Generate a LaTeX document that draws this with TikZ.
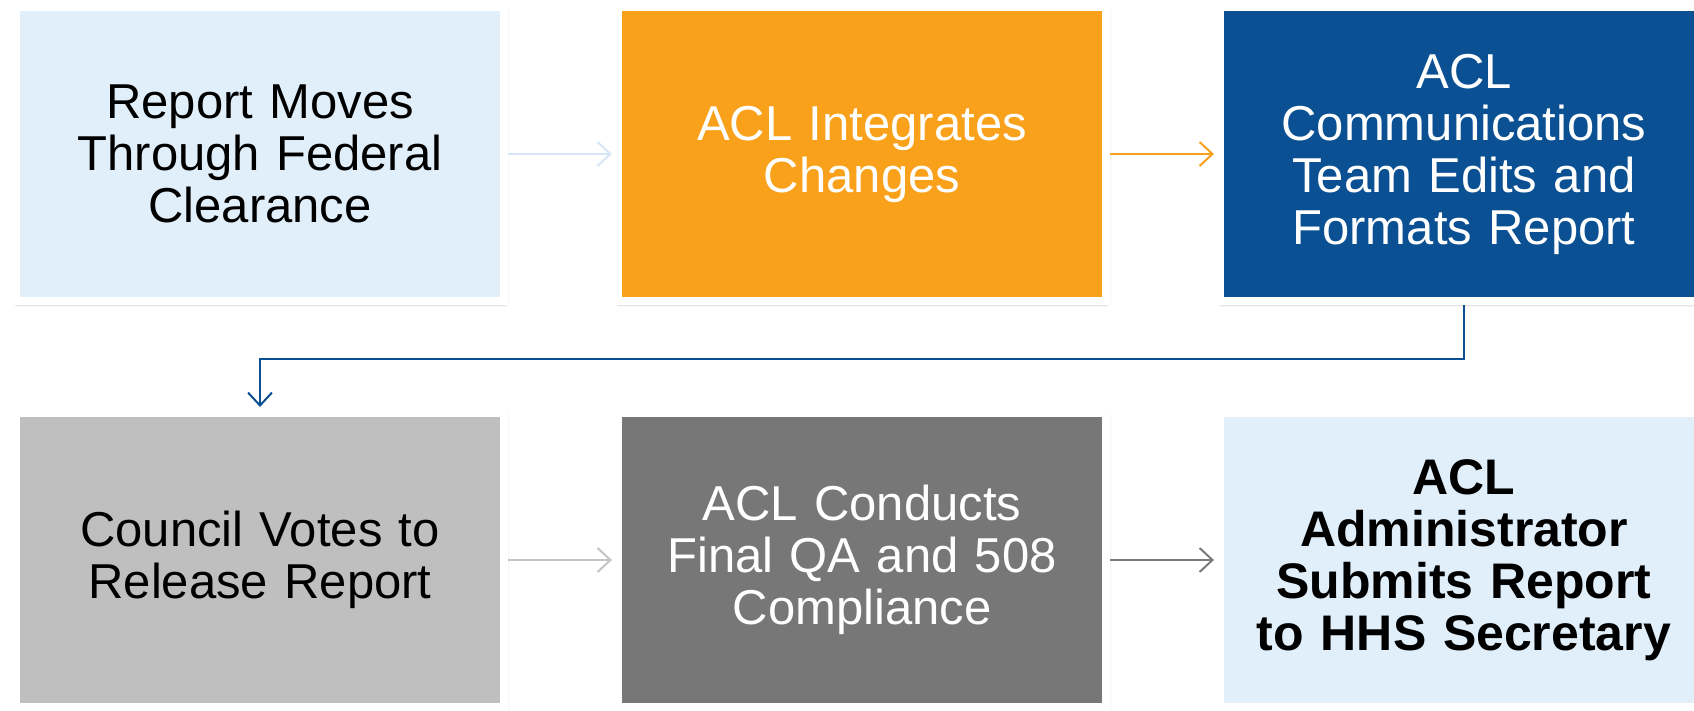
\documentclass[tikz,border=0pt]{standalone}
\usepackage{fontspec}
\setmainfont{Liberation Sans}
\usetikzlibrary{arrows.meta,shadows.blur}
\definecolor{lblue}{HTML}{E1EFFA}
\definecolor{orng}{HTML}{F9A11B}
\definecolor{dblue}{HTML}{0B5092}
\definecolor{lgray}{HTML}{BFBFBF}
\definecolor{dgray}{HTML}{777777}
\definecolor{arrblue}{HTML}{D6E6F6}
\definecolor{arrgray}{HTML}{C4C4C4}
\definecolor{arrdgray}{HTML}{7A7A7A}
\begin{document}
\begin{tikzpicture}[x=1pt,y=1pt,
  stepbox/.style={draw=white, line width=8pt, minimum width=488pt, minimum height=294pt,
    inner sep=0pt, align=center, text width=470pt,
    font=\fontsize{49pt}{52pt}\selectfont,
    blur shadow={shadow xshift=1pt, shadow yshift=-2pt, shadow blur radius=4pt, shadow opacity=55}},
  flow/.style={line width=2pt, -{Straight Barb[length=13pt,width=24pt,line width=2pt]}, shorten >=2pt}]
\useasboundingbox (0,0) rectangle (1694,-711);
\node[stepbox, fill=lblue, text=black] (b1) at (260,-154) {Report Moves\\Through Federal\\Clearance};
\node[stepbox, fill=orng, text=white] (b2) at (862,-154) {ACL Integrates\\Changes};
\node[stepbox, fill=dblue, text=white] (b3) at (1464,-154) {ACL\\Communications\\Team Edits and\\Formats Report};
\node[stepbox, fill=lgray, text=black] (b4) at (260,-560) {Council Votes to\\Release Report};
\node[stepbox, fill=dgray, text=white] (b5) at (862,-560) {ACL Conducts\\Final QA and 508\\Compliance};
\node[stepbox, fill=lblue, text=black, font=\fontsize{50pt}{52pt}\selectfont\bfseries] (b6) at (1464,-560) {ACL\\Administrator\\Submits Report\\to HHS Secretary};
\draw[flow, arrblue] (b1.east) -- (b2.west);
\draw[flow, orng] (b2.east) -- (b3.west);
\draw[flow, dblue, line width=2.5pt] (b3.south) -- ++(0,-54) -| (b4.north);
\draw[flow, arrgray] (b4.east) -- (b5.west);
\draw[flow, arrdgray] (b5.east) -- (b6.west);
\end{tikzpicture}
\end{document}
